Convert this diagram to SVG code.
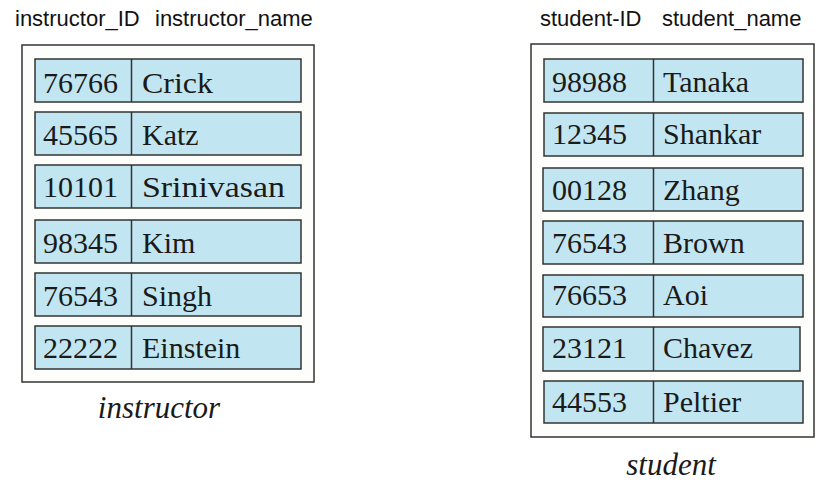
<svg xmlns="http://www.w3.org/2000/svg" width="834" height="487" viewBox="0 0 834 487">
<style>
.hdr{font-family:"Liberation Sans",Arial,sans-serif;font-size:22px;fill:#111}
.frame{fill:#fdfdfb;stroke:#333;stroke-width:1.5}
.cell{fill:#c2e6f1;stroke:#333;stroke-width:1.5}
.div{stroke:#333;stroke-width:1.5}
.val{font-family:"Liberation Serif","Times New Roman",serif;font-size:30px;fill:#1a1a1a}
.cap{font-family:"Liberation Serif","Times New Roman",serif;font-size:31px;font-style:italic;fill:#1a1a1a;text-anchor:middle}
</style>
<rect width="834" height="487" fill="#fff"/>

<g id="instructor">
<text class="hdr" x="15" y="26">instructor_ID</text>
<text class="hdr" x="155" y="26">instructor_name</text>
<rect class="frame" x="22" y="45" width="292" height="337"/>
<g id="i1"><rect class="cell" x="35" y="59" width="266" height="43"/><line class="div" x1="131.5" y1="59" x2="131.5" y2="102"/><text class="val" x="43" y="93">76766</text><text class="val" x="142" y="93" textLength="71" lengthAdjust="spacingAndGlyphs">Crick</text></g>
<g id="i2"><rect class="cell" x="35" y="112" width="266" height="43"/><line class="div" x1="131.5" y1="112" x2="131.5" y2="155"/><text class="val" x="43" y="145">45565</text><text class="val" x="142" y="145">Katz</text></g>
<g id="i3"><rect class="cell" x="35" y="165" width="266" height="43"/><line class="div" x1="131.5" y1="165" x2="131.5" y2="208"/><text class="val" x="43" y="197">10101</text><text class="val" x="142" y="197" textLength="143" lengthAdjust="spacingAndGlyphs">Srinivasan</text></g>
<g id="i4"><rect class="cell" x="35" y="220" width="266" height="43"/><line class="div" x1="131.5" y1="220" x2="131.5" y2="263"/><text class="val" x="43" y="253">98345</text><text class="val" x="142" y="253">Kim</text></g>
<g id="i5"><rect class="cell" x="35" y="273" width="266" height="43"/><line class="div" x1="131.5" y1="273" x2="131.5" y2="316"/><text class="val" x="43" y="306">76543</text><text class="val" x="142" y="306">Singh</text></g>
<g id="i6"><rect class="cell" x="35" y="326" width="266" height="43"/><line class="div" x1="131.5" y1="326" x2="131.5" y2="369"/><text class="val" x="43" y="358">22222</text><text class="val" x="142" y="358">Einstein</text></g>
<text class="cap" x="159" y="418">instructor</text>
</g>

<g id="student">
<text class="hdr" x="540" y="26">student-ID</text>
<text class="hdr" x="662" y="26">student_name</text>
<rect class="frame" x="531" y="44" width="283" height="393"/>
<g id="s1"><rect class="cell" x="544" y="59" width="259" height="43"/><line class="div" x1="653.5" y1="59" x2="653.5" y2="102"/><text class="val" x="552" y="92">98988</text><text class="val" x="663" y="92">Tanaka</text></g>
<g id="s2"><rect class="cell" x="544" y="113" width="259" height="43"/><line class="div" x1="653.5" y1="113" x2="653.5" y2="156"/><text class="val" x="552" y="144">12345</text><text class="val" x="663" y="144">Shankar</text></g>
<g id="s3"><rect class="cell" x="543" y="168" width="260" height="43"/><line class="div" x1="653.5" y1="168" x2="653.5" y2="211"/><text class="val" x="552" y="200">00128</text><text class="val" x="663" y="200">Zhang</text></g>
<g id="s4"><rect class="cell" x="543" y="221" width="260" height="43"/><line class="div" x1="653.5" y1="221" x2="653.5" y2="264"/><text class="val" x="552" y="253">76543</text><text class="val" x="663" y="253">Brown</text></g>
<g id="s5"><rect class="cell" x="543" y="275" width="260" height="42"/><line class="div" x1="653.5" y1="275" x2="653.5" y2="317"/><text class="val" x="552" y="305">76653</text><text class="val" x="663" y="305">Aoi</text></g>
<g id="s6"><rect class="cell" x="543" y="327" width="257" height="44"/><line class="div" x1="653.5" y1="327" x2="653.5" y2="371"/><text class="val" x="552" y="358">23121</text><text class="val" x="663" y="358">Chavez</text></g>
<g id="s7"><rect class="cell" x="544" y="381" width="259" height="42"/><line class="div" x1="653.5" y1="381" x2="653.5" y2="423"/><text class="val" x="552" y="412">44553</text><text class="val" x="663" y="412">Peltier</text></g>
<text class="cap" x="671" y="475">student</text>
</g>

<g id="connectors"></g>
</svg>
